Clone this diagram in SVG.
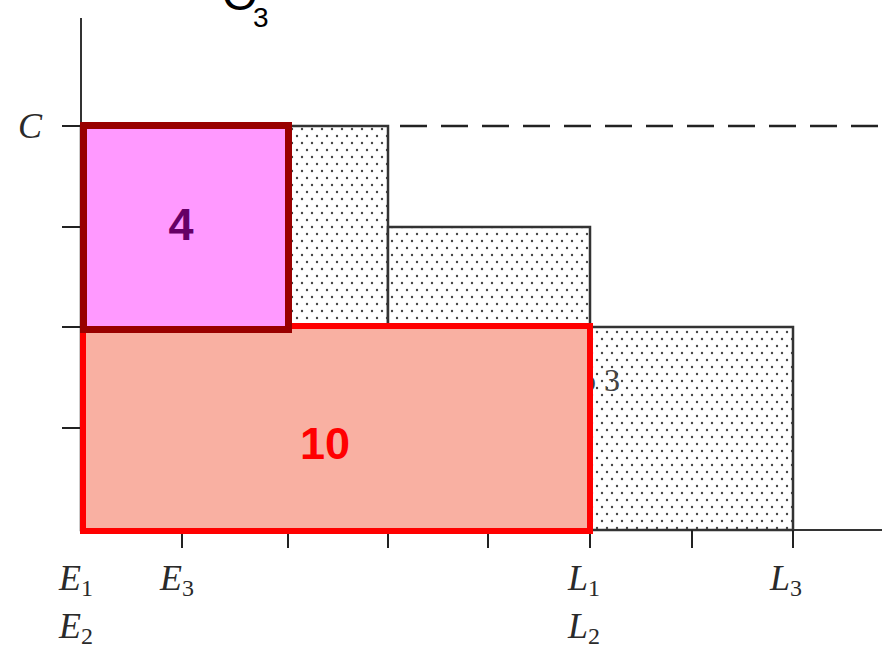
<svg xmlns="http://www.w3.org/2000/svg" width="882" height="647" viewBox="0 0 882 647">
  <style>
    .axis { stroke: #333; stroke-width: 2; fill: none; }
    .tick { stroke: #222; stroke-width: 2; }
    .job { fill: url(#dots); stroke: #333; stroke-width: 2.5; }
    .lbl { font-family: "Liberation Serif", "DejaVu Serif", serif; font-style: italic; font-size: 36px; fill: #2a2a2a; }
    .sub { font-size: 24px; font-style: normal; }
    .num { font-family: "Liberation Sans", Arial, sans-serif; font-weight: bold; font-size: 45px; text-anchor: middle; }
  </style>
  <defs>
    <pattern id="dots" width="10" height="14" patternUnits="userSpaceOnUse">
      <rect width="10" height="14" fill="#fff"/>
      <circle cx="2" cy="3" r="1.2" fill="#444"/>
      <circle cx="7" cy="10" r="1.2" fill="#444"/>
    </pattern>
  </defs>
  <rect width="882" height="647" fill="#fff"/>

  <g id="title">
    <text x="222" y="10" font-family="Liberation Sans, Arial, sans-serif" font-size="46" fill="#000">O</text>
    <text x="253" y="27" font-family="Liberation Sans, Arial, sans-serif" font-size="28" fill="#000">3</text>
  </g>

  <g id="jobs">
    <rect id="job1" class="job" x="81" y="126" width="307" height="404"/>
    <rect id="job2" class="job" x="388" y="227" width="202" height="303"/>
    <rect id="job3" class="job" x="590" y="327" width="203" height="203"/>
    <text x="580" y="391" font-family="Liberation Serif, DejaVu Serif, serif" font-size="32" fill="#444">o 3</text>
  </g>

  <g id="connectors">
    <line class="axis" x1="81" y1="18" x2="81" y2="531"/>
    <line class="axis" x1="80" y1="530" x2="882" y2="530"/>
    <line x1="400" y1="126" x2="882" y2="126" stroke="#222" stroke-width="2.5" stroke-dasharray="27 14"/>
    <g class="tick">
      <line x1="62" y1="126" x2="81" y2="126"/>
      <line x1="62" y1="227" x2="81" y2="227"/>
      <line x1="62" y1="327" x2="81" y2="327"/>
      <line x1="62" y1="428" x2="81" y2="428"/>
      <line x1="182" y1="530" x2="182" y2="548"/>
      <line x1="288" y1="530" x2="288" y2="548"/>
      <line x1="388" y1="530" x2="388" y2="548"/>
      <line x1="488" y1="530" x2="488" y2="548"/>
      <line x1="590" y1="530" x2="590" y2="548"/>
      <line x1="692" y1="530" x2="692" y2="548"/>
      <line x1="793" y1="530" x2="793" y2="548"/>
    </g>
  </g>

  <g id="node10">
    <rect x="83" y="326" width="507" height="205" fill="#F9B0A2" stroke="#FF0000" stroke-width="6"/>
    <text class="num" x="325" y="459" fill="#FF0000">10</text>
  </g>

  <g id="node4">
    <rect x="83.5" y="125.5" width="205" height="204" fill="#FF99FF" stroke="#990000" stroke-width="7"/>
    <text class="num" x="181" y="240" fill="#660066">4</text>
  </g>

  <g id="labels">
    <text class="lbl" x="18" y="138">C</text>
    <text class="lbl" x="59" y="590">E<tspan class="sub" dy="6">1</tspan></text>
    <text class="lbl" x="59" y="638">E<tspan class="sub" dy="6">2</tspan></text>
    <text class="lbl" x="160" y="590">E<tspan class="sub" dy="6">3</tspan></text>
    <text class="lbl" x="568" y="590">L<tspan class="sub" dy="6">1</tspan></text>
    <text class="lbl" x="568" y="638">L<tspan class="sub" dy="6">2</tspan></text>
    <text class="lbl" x="770" y="590">L<tspan class="sub" dy="6">3</tspan></text>
  </g>
</svg>
